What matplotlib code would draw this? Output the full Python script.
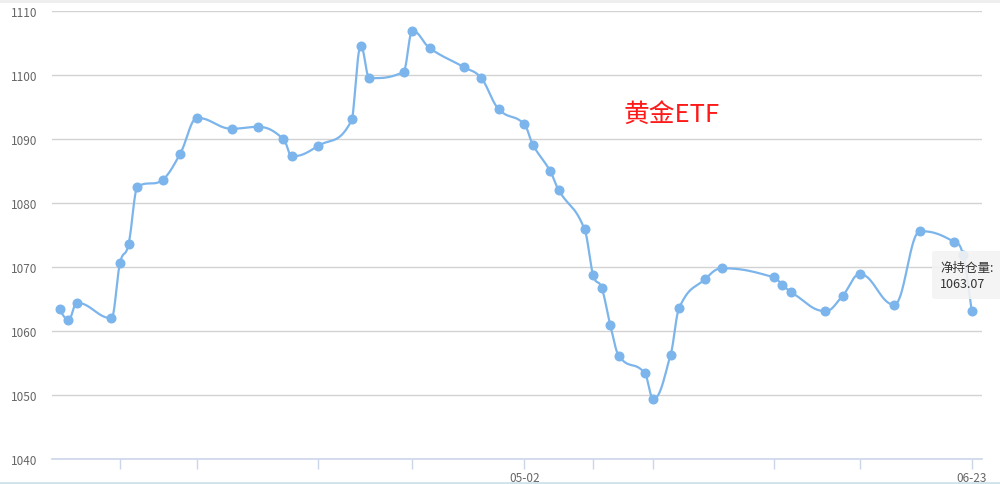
import numpy as np
import matplotlib
matplotlib.use("Agg")
import matplotlib.pyplot as plt
from matplotlib.patches import FancyBboxPatch
from matplotlib.lines import Line2D

plt.rcParams['font.family'] = ['Noto Sans CJK SC', 'DejaVu Sans']

# 数据: 日期 (2022) 与 净持仓量
dates = ['03-09', '03-10', '03-11', '03-15', '03-16', '03-17', '03-18', '03-21',
         '03-23', '03-25', '03-29', '04-01', '04-04', '04-05', '04-08', '04-12',
         '04-13', '04-14', '04-18', '04-19', '04-21', '04-25', '04-27', '04-29',
         '05-02', '05-03', '05-05', '05-06', '05-09', '05-10', '05-11', '05-12',
         '05-13', '05-16', '05-17', '05-19', '05-20', '05-23', '05-25', '05-31',
         '06-01', '06-02', '06-06', '06-08', '06-10', '06-14', '06-17', '06-21',
         '06-22', '06-23']
holdings = [1063.4, 1061.7, 1064.4, 1062.0, 1070.6, 1073.6, 1082.5, 1083.6,
            1087.7, 1093.3, 1091.6, 1091.9, 1090.0, 1087.3, 1088.9, 1093.1,
            1104.5, 1099.5, 1100.5, 1106.9, 1104.2, 1101.2, 1099.5, 1094.7,
            1092.3, 1089.1, 1085.0, 1082.0, 1075.9, 1068.75, 1066.7, 1060.9,
            1056.1, 1053.4, 1049.4, 1056.25, 1063.6, 1068.1, 1069.8, 1068.4,
            1067.2, 1066.1, 1063.1, 1065.5, 1068.9, 1064.1, 1075.6, 1073.9,
            1071.9, 1063.07]
yticks = [1040, 1050, 1060, 1070, 1080, 1090, 1100, 1110]
shown_labels = ['05-02', '06-23']

# 日期 -> 距 05-02 的天数
d = np.array(['2022-' + s for s in dates], dtype='datetime64[D]')
x = (d - np.datetime64('2022-05-02')).astype(float)
y = np.array(holdings)
n = len(x)

# 平滑曲线: 每个点左右两个控制点, 防止出现假极值
sm = 1.5
den = sm + 1
lcx, lcy = x.copy(), y.copy()
rcx, rcy = x.copy(), y.copy()
for i in range(1, n - 1):
    px, py = x[i], y[i]
    ax0, ay0 = x[i - 1], y[i - 1]
    nx, ny = x[i + 1], y[i + 1]
    lx = (sm * px + ax0) / den
    ly = (sm * py + ay0) / den
    rx = (sm * px + nx) / den
    ry = (sm * py + ny) / den
    corr = (ry - ly) * (rx - px) / (rx - lx) + py - ry
    ly += corr
    ry += corr
    if ly > ay0 and ly > py:
        ly = max(ay0, py)
        ry = 2 * py - ly
    elif ly < ay0 and ly < py:
        ly = min(ay0, py)
        ry = 2 * py - ly
    if ry > ny and ry > py:
        ry = max(ny, py)
        ly = 2 * py - ry
    elif ry < ny and ry < py:
        ry = min(ny, py)
        ly = 2 * py - ry
    lcx[i], lcy[i], rcx[i], rcy[i] = lx, ly, rx, ry

t = np.linspace(0, 1, 40)[:, None]
xs, ys = [], []
for i in range(n - 1):
    P = np.array([[x[i], y[i]], [rcx[i], rcy[i]],
                  [lcx[i + 1], lcy[i + 1]], [x[i + 1], y[i + 1]]])
    B = ((1 - t)**3 * P[0] + 3 * (1 - t)**2 * t * P[1]
         + 3 * (1 - t) * t**2 * P[2] + t**3 * P[3])
    xs.append(B[:, 0])
    ys.append(B[:, 1])
xs = np.concatenate(xs)
ys = np.concatenate(ys)

W, H, DPI = 1000, 485, 100
fig = plt.figure(figsize=(W / DPI, H / DPI), dpi=DPI)
ax = fig.add_axes([52 / W, (H - 460) / H, 930 / W, 448 / H])

ax.plot(xs, ys, color='#7cb5ec', lw=1.6, zorder=3, solid_capstyle='round')
ax.plot(x, y, 'o', color='#7cb5ec', ms=6.2, mec='#7cb5ec', zorder=4)

ax.set_xlim(-54.9, 53.2)
ax.set_ylim(1040, 1110)
ax.set_yticks(yticks)
ax.set_yticklabels([str(v) for v in yticks])
ax.yaxis.grid(True, color='#d2d2d2', lw=1)
ax.set_axisbelow(True)

tick_x = x[4::5]
ax.set_xticks(tick_x)
ax.set_xticklabels([dates[i] if dates[i] in shown_labels else ''
                    for i in range(4, n, 5)])
ax.tick_params(axis='x', length=7, width=1, color='#ccd6eb', labelcolor='#666666',
               labelsize=8.5, pad=1.5)
ax.tick_params(axis='y', length=0, labelcolor='#666666', labelsize=8.5, pad=10.5)

for s in ['top', 'right', 'left']:
    ax.spines[s].set_visible(False)
ax.spines['bottom'].set_color('#ccd6eb')
ax.spines['bottom'].set_linewidth(1.2)

# 标题
fig.text(624 / W, (H - 115) / H, '黄金ETF', color='#ff1a1a',
         fontsize=18.5, ha='left', va='center')

# 提示框
box = FancyBboxPatch((932 / W, (H - 300) / H), 80 / W, 48 / H,
                     boxstyle='round,pad=0,rounding_size=0.004',
                     transform=fig.transFigure, fc='#f3f3f3', ec='none',
                     alpha=0.9, zorder=5)
fig.patches.append(box)
fig.text(940 / W, (H - 268) / H, '净持仓量:', color='#333333', fontsize=9,
         va='center', ha='left', zorder=6)
fig.text(940 / W, (H - 285) / H, '1063.07', color='#333333', fontsize=9,
         va='center', ha='left', zorder=6)

# 边框线
fig.add_artist(Line2D([0, 1], [1 - 1.5 / H, 1 - 1.5 / H], transform=fig.transFigure,
                      color='#eeeeee', lw=2))
fig.add_artist(Line2D([0, 1], [1.5 / H, 1.5 / H], transform=fig.transFigure,
                      color='#cfe4ea', lw=2))

plt.savefig('out.png', dpi=DPI)
